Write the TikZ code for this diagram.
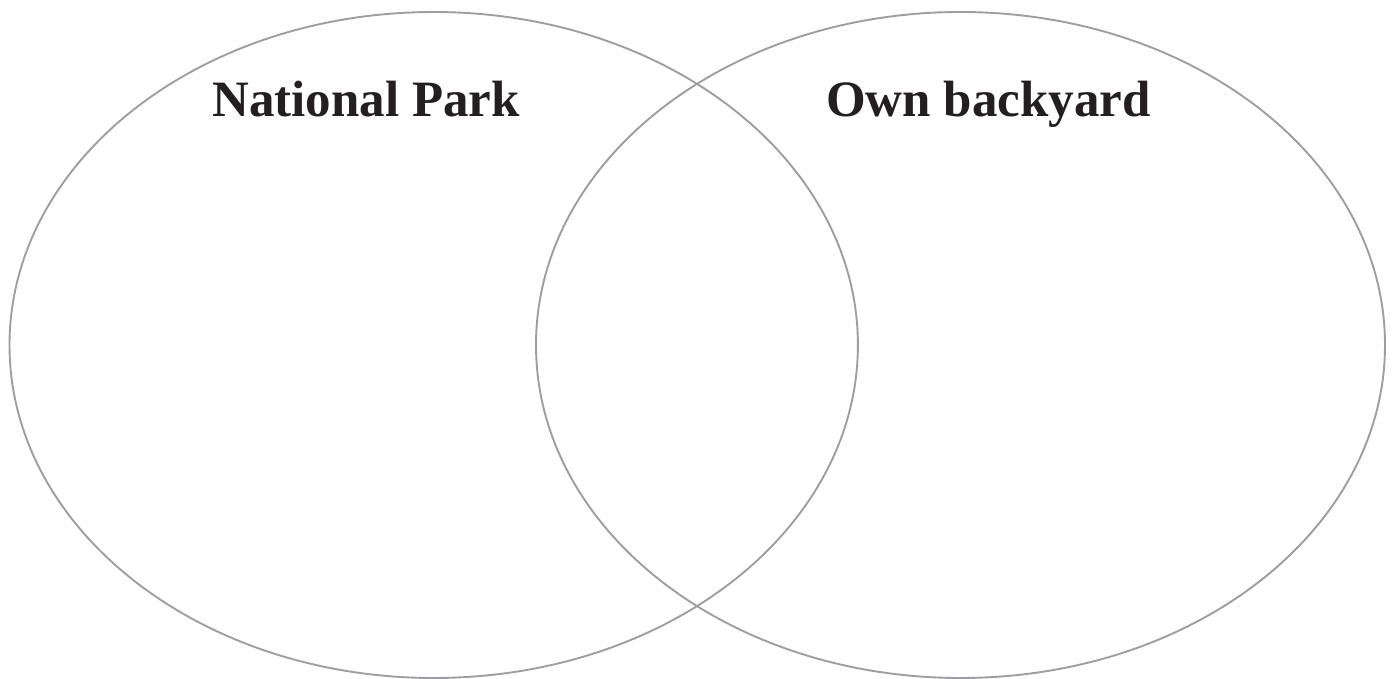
\documentclass[tikz,border=0pt]{standalone}
\usepackage{fontspec}
\setmainfont{Liberation Serif}
\definecolor{ringgray}{RGB}{158,158,162}
\definecolor{labelink}{RGB}{35,31,32}
\begin{document}
\begin{tikzpicture}[x=1pt,y=-1pt,
  ring/.style={draw=ringgray,line width=1.9pt},
  setlabel/.style={font=\fontsize{51}{60}\selectfont\bfseries,text=labelink,anchor=base,inner sep=0pt}]
\useasboundingbox (0,0) rectangle (1393,679);
\draw[ring] (433.7,345) ellipse [x radius=424.2, y radius=333];
\draw[ring] (960.5,345) ellipse [x radius=424.5, y radius=333];
\node[setlabel] (np) at (366,117) {National Park};
\node[setlabel] (ob) at (988.5,117) {Own backyard};
\end{tikzpicture}
\end{document}
